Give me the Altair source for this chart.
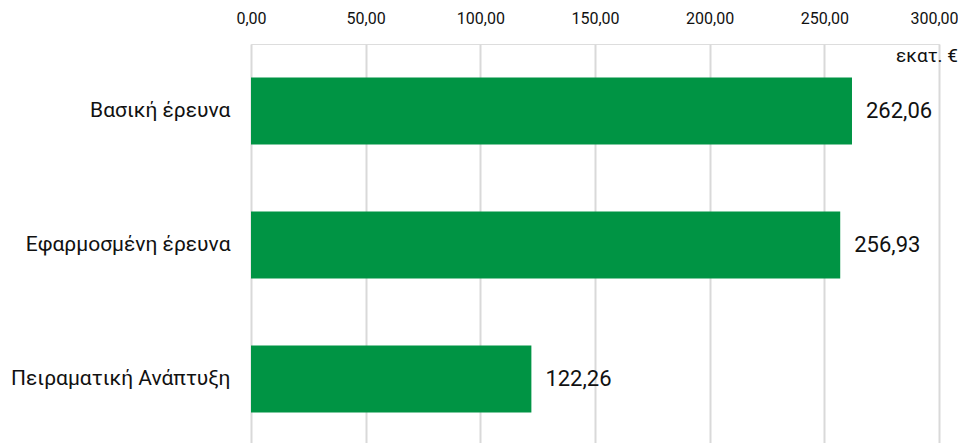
import altair as alt
import pandas as pd

categories = ["Βασική έρευνα", "Εφαρμοσμένη έρευνα", "Πειραματική Ανάπτυξη"]
values = [262.06, 256.93, 122.26]
unit_label = "εκατ. €"

df = pd.DataFrame({"cat": categories, "val": values})

FONT = "Roboto"

x_scale = alt.Scale(domain=[0, 300])
y_enc = alt.Y("cat:N", sort=categories, title=None,
              scale=alt.Scale(paddingInner=0.5, paddingOuter=0.25),
              axis=alt.Axis(labelFontSize=21, labelFont=FONT, labelColor="#111111",
                            labelPadding=21, ticks=False, domain=False, labelLimit=300))

bars = alt.Chart(df).mark_bar(color="#009444").encode(
    x=alt.X("val:Q", scale=x_scale, title=None,
            axis=alt.Axis(orient="top", values=[0, 50, 100, 150, 200, 250, 300],
                          labelExpr="replace(format(datum.value, '.2f'), '.', ',')",
                          labelFontSize=16, labelFont=FONT, labelColor="#111111",
                          labelFlush=False, labelOverlap=False, labelBound=False,
                          labelOffset={"condition": {"test": "datum.value == 300", "value": -5}, "value": 0},
                          labelPadding=18, ticks=False, domain=False,
                          grid=True, gridColor="#d9d9d9", gridWidth=2)),
    y=y_enc,
)

texts = alt.Chart(df).transform_calculate(
    lbl="replace(format(datum.val, '.2f'), '.', ',')"
).mark_text(align="left", baseline="middle", dx=14, fontSize=22, font=FONT, color="#111111").encode(
    x=alt.X("val:Q", scale=x_scale),
    y=alt.Y("cat:N", sort=categories),
    text="lbl:N",
)

unit = alt.Chart(pd.DataFrame({"t": [unit_label]})).mark_text(
    align="right", baseline="middle", fontSize=19, font=FONT, color="#111111"
).encode(
    x=alt.value(707), y=alt.value(12), text="t:N"
)

chart = (bars + texts + unit).properties(
    width=688, height=402,
    autosize=alt.AutoSizeParams(type="none"),
    padding={"left": 243, "top": 36, "right": 19, "bottom": 0},
).configure_view(stroke=None).configure(background="white")

chart.save("out.html", embed_options={"renderer": "svg", "actions": False})
